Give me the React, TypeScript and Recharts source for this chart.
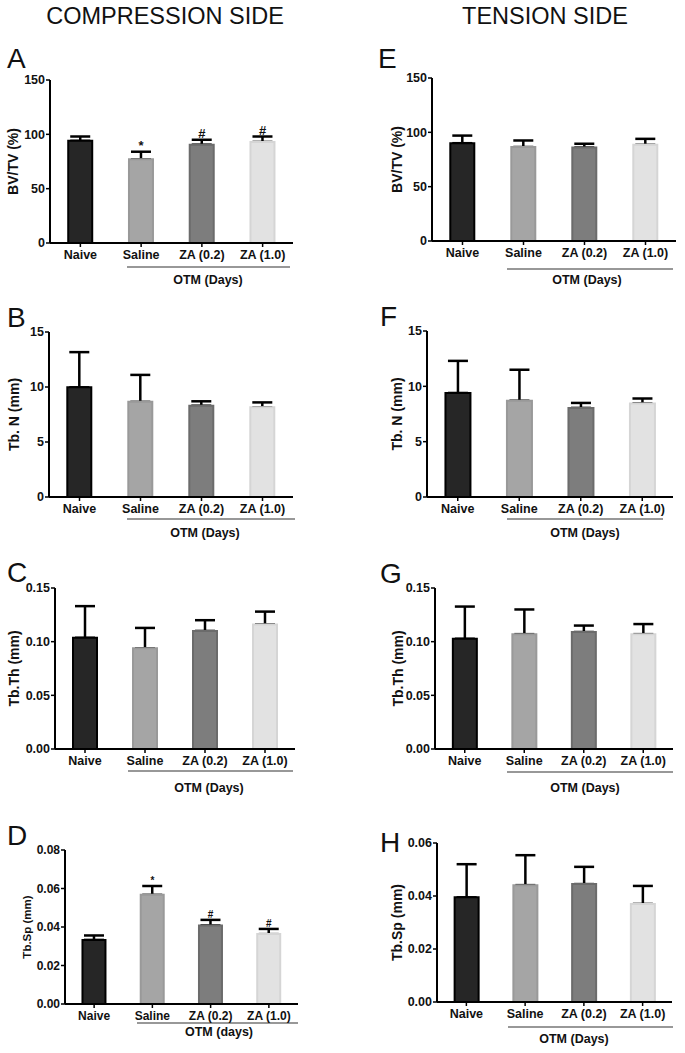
import React from "react";
import {
  ComposedChart,
  Bar,
  Line,
  XAxis,
  YAxis,
  ErrorBar,
  Cell,
  LabelList,
} from "recharts";

const GROUPS = ["Naive", "Saline", "ZA (0.2)", "ZA (1.0)"];

// compression side (mean, SEM)
const bvtvComp = [94, 77, 90.5, 93];
const bvtvCompSem = [4, 7, 4.5, 5];
const bvtvCompSig = ["", "*", "#", "#"];
const tbnComp = [9.97, 8.65, 8.3, 8.15];
const tbnCompSem = [3.2, 2.45, 0.4, 0.45];
const tbthComp = [0.1036, 0.0938, 0.11, 0.116];
const tbthCompSem = [0.0295, 0.019, 0.01, 0.012];
const tbspComp = [0.0333, 0.0567, 0.0408, 0.0363];
const tbspCompSem = [0.0023, 0.0046, 0.0029, 0.0027];
const tbspCompSig = ["", "*", "#", "#"];

// tension side
const bvtvTens = [90, 86.5, 86, 88.5];
const bvtvTensSem = [7, 6, 3.5, 5.5];
const tbnTens = [9.4, 8.7, 8.05, 8.45];
const tbnTensSem = [2.9, 2.8, 0.45, 0.45];
const tbthTens = [0.1027, 0.107, 0.109, 0.107];
const tbthTensSem = [0.03, 0.023, 0.006, 0.0094];
const tbspTens = [0.0395, 0.0441, 0.0445, 0.037];
const tbspTensSem = [0.0125, 0.0113, 0.0065, 0.0068];

const ticksBv = [0, 50, 100, 150];
const ticksN = [0, 5, 10, 15];
const ticksTh = [0, 0.05, 0.1, 0.15];
const ticksSpComp = [0, 0.02, 0.04, 0.06, 0.08];
const ticksSpTens = [0, 0.02, 0.04, 0.06];

const FILLS = ["#262626", "#a5a5a5", "#7d7d7d", "#e2e2e2"];
const STROKES = ["#000000", "#999999", "#6b6b6b", "#d5d5d5"];
const FONT = '"Liberation Sans", Arial, sans-serif';

function rows(mean: number[], sem: number[], sig?: string[]) {
  return GROUPS.map((g, i) => ({
    group: g,
    mean: mean[i],
    // error drawn upwards only, like the original figure
    err: [0, sem[i]],
    top: mean[i] + sem[i],
    sig: sig ? sig[i] : "",
  }));
}

type PanelProps = {
  data: ReturnType<typeof rows>;
  ticks: number[];
  decimals: number;
  yLabel: string;
  labelX: number;
  axisX: number;
  plotRight: number;
  yTop: number;
  y0: number;
  labelSize?: number;
  tickSize?: number;
  sigSize?: number;
};

function Panel(p: PanelProps) {
  const mt = 8;
  const xh = 26;
  const mr = 4;
  const ml = 12;
  const width = ml + p.plotRight - p.labelX + mr;
  const height = mt + (p.y0 - p.yTop) + xh;
  const tickFont = p.tickSize ?? 12.5;
  return (
    <div style={{ position: "absolute", left: p.labelX - ml, top: p.yTop - mt }}>
      <ComposedChart
        width={width}
        height={height}
        data={p.data}
        margin={{ top: mt, right: mr, bottom: 0, left: ml }}
        barCategoryGap="30%"
      >
        <XAxis
          xAxisId="a"
          dataKey="group"
          height={xh}
          interval={0}
          tickSize={4}
          tickMargin={3}
          axisLine={{ stroke: "#000", strokeWidth: 2 }}
          tickLine={{ stroke: "#000", strokeWidth: 1.5 }}
          tick={{ fontSize: tickFont, fontWeight: 700, fill: "#111", fontFamily: FONT }}
        />
        <XAxis xAxisId="b" dataKey="group" hide />
        <YAxis
          width={p.axisX - p.labelX}
          domain={[0, p.ticks[p.ticks.length - 1]]}
          ticks={p.ticks}
          interval={0}
          tickSize={4}
          tickMargin={1}
          tickFormatter={(v: number) => v.toFixed(p.decimals)}
          axisLine={{ stroke: "#000", strokeWidth: 2 }}
          tickLine={{ stroke: "#000", strokeWidth: 1.5 }}
          tick={{ fontSize: tickFont, fontWeight: 700, fill: "#111", fontFamily: FONT }}
          label={{
            value: p.yLabel,
            angle: -90,
            position: "insideLeft",
            offset: 0,
            style: {
              textAnchor: "middle",
              fontSize: p.labelSize ?? 14,
              fontWeight: 700,
              fill: "#111",
              fontFamily: FONT,
            },
          }}
        />
        {/* error bars underneath; the visible bars are drawn over them */}
        <Bar xAxisId="b" dataKey="mean" fill="transparent" isAnimationActive={false} zIndex={250}>
          <ErrorBar dataKey="err" width={10} stroke="#000" strokeWidth={2.5} direction="y" zIndex={250} />
        </Bar>
        <Bar xAxisId="a" dataKey="mean" strokeWidth={2} isAnimationActive={false} zIndex={350}>
          {p.data.map((_, i) => (
            <Cell key={i} fill={FILLS[i]} stroke={STROKES[i]} />
          ))}
        </Bar>
        <Line
          xAxisId="a"
          dataKey="top"
          stroke="none"
          dot={false}
          activeDot={false}
          isAnimationActive={false}
        >
          <LabelList
            dataKey="sig"
            position="top"
            offset={2}
            style={{ fontSize: p.sigSize ?? 13, fontWeight: 700, fill: "#111", fontFamily: FONT }}
          />
        </Line>
      </ComposedChart>
    </div>
  );
}

// letters, titles, group underline and "OTM" captions
const LETTERS: [string, number, number][] = [
  ["A", 7, 68], ["B", 7, 327], ["C", 7, 582], ["D", 7, 845],
  ["E", 378, 68], ["F", 380, 326], ["G", 380, 583], ["H", 380, 852],
];
const UNDERLINES: [number, number, number][] = [
  [127, 290, 267], [127, 295, 519], [128, 293, 771], [137, 298, 1023],
  [507, 673, 269], [507, 663, 519], [507, 673, 772], [508, 673, 1027],
];
const CAPTIONS: [string, number, number][] = [
  ["OTM (Days)", 208, 284], ["OTM (Days)", 205, 537], ["OTM (Days)", 209, 792], ["OTM (days)", 219, 1036],
  ["OTM (Days)", 587, 284], ["OTM (Days)", 585, 537], ["OTM (Days)", 585, 792], ["OTM (Days)", 574, 1043],
];

function Overlay() {
  return (
    <svg
      width={685}
      height={1053}
      style={{ position: "absolute", left: 0, top: 0, pointerEvents: "none" }}
      fontFamily={FONT}
    >
      <text x={165} y={24} textAnchor="middle" fontSize={23.5} fill="#111">
        COMPRESSION SIDE
      </text>
      <text x={545} y={24} textAnchor="middle" fontSize={23.5} fill="#111">
        TENSION SIDE
      </text>
      {LETTERS.map(([t, x, y]) => (
        <text key={t} x={x} y={y} fontSize={28} fill="#111">
          {t}
        </text>
      ))}
      {UNDERLINES.map(([x1, x2, y], i) => (
        <line key={i} x1={x1} x2={x2} y1={y} y2={y} stroke="#333" strokeWidth={1.2} />
      ))}
      {CAPTIONS.map(([t, x, y], i) => (
        <text key={i} x={x} y={y} textAnchor="middle" fontSize={12.5} fontWeight={700} fill="#111">
          {t}
        </text>
      ))}
    </svg>
  );
}

export default function App() {
  return (
    <div
      style={{
        position: "absolute",
        left: 0,
        top: 0,
        width: 685,
        height: 1053,
        background: "#fff",
        overflow: "hidden",
      }}
    >
      <Overlay />
      <Panel data={rows(bvtvComp, bvtvCompSem, bvtvCompSig)} ticks={ticksBv} decimals={0}
        yLabel="BV/TV (%)" labelX={13} axisX={50} plotRight={293} yTop={80} y0={243} />
      <Panel data={rows(tbnComp, tbnCompSem)} ticks={ticksN} decimals={0}
        yLabel="Tb. N (mm)" labelX={14} axisX={49} plotRight={293} yTop={332} y0={497} />
      <Panel data={rows(tbthComp, tbthCompSem)} ticks={ticksTh} decimals={2}
        yLabel="Tb.Th (mm)" labelX={14} axisX={55} plotRight={295} yTop={588} y0={749} />
      <Panel data={rows(tbspComp, tbspCompSem, tbspCompSig)} ticks={ticksSpComp} decimals={2}
        yLabel="Tb.Sp (mm)" labelX={27} axisX={65} plotRight={298} yTop={850} y0={1004}
        labelSize={11.5} tickSize={12} sigSize={10} />

      <Panel data={rows(bvtvTens, bvtvTensSem)} ticks={ticksBv} decimals={0}
        yLabel="BV/TV (%)" labelX={397} axisX={432} plotRight={676} yTop={78} y0={241} />
      <Panel data={rows(tbnTens, tbnTensSem)} ticks={ticksN} decimals={0}
        yLabel="Tb. N (mm)" labelX={397} axisX={427} plotRight={673} yTop={331} y0={497} />
      <Panel data={rows(tbthTens, tbthTensSem)} ticks={ticksTh} decimals={2}
        yLabel="Tb.Th (mm)" labelX={398} axisX={435} plotRight={673} yTop={588} y0={749} />
      <Panel data={rows(tbspTens, tbspTensSem)} ticks={ticksSpTens} decimals={2}
        yLabel="Tb.Sp (mm)" labelX={397} axisX={437} plotRight={672} yTop={843} y0={1002} />
    </div>
  );
}
